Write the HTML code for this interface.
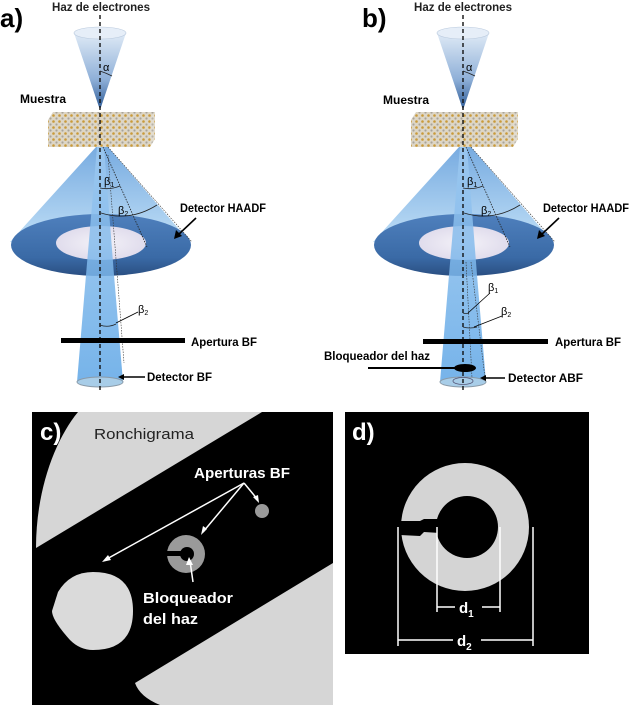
<!DOCTYPE html>
<html><head><meta charset="utf-8"><style>
html,body{margin:0;padding:0;background:#fff}
svg{display:block}
text{font-family:"Liberation Sans",sans-serif}
</style></head><body>
<svg width="635" height="705" viewBox="0 0 635 705" xmlns="http://www.w3.org/2000/svg">
<defs>
<linearGradient id="topcone" x1="0" y1="0" x2="0" y2="1">
<stop offset="0" stop-color="#dfeaf6"/><stop offset="0.6" stop-color="#8fb0d8"/><stop offset="1" stop-color="#2c5a96"/>
</linearGradient>
<linearGradient id="bigcone" x1="0" y1="0" x2="0" y2="1">
<stop offset="0" stop-color="#4a8fd6"/><stop offset="1" stop-color="#a9d3f3"/>
</linearGradient>
<linearGradient id="beam" x1="0" y1="0" x2="0" y2="1">
<stop offset="0" stop-color="#9fcaf0"/><stop offset="1" stop-color="#5ea6e6"/>
</linearGradient>
<linearGradient id="torus" x1="0" y1="0" x2="0" y2="1">
<stop offset="0" stop-color="#4f80bd"/><stop offset="0.7" stop-color="#3a6aa6"/><stop offset="1" stop-color="#2a4f82"/>
</linearGradient>
<radialGradient id="hole" cx="0.5" cy="0.5" r="0.6">
<stop offset="0" stop-color="#f4f2f8"/><stop offset="1" stop-color="#dcd8ea"/>
</radialGradient>
<pattern id="xtal" width="6" height="6" patternUnits="userSpaceOnUse">
<rect width="6" height="6" fill="#ddd6c6"/>
<circle cx="1.5" cy="1.5" r="1.3" fill="#c99a3a"/>
<circle cx="4.5" cy="4.5" r="1.1" fill="#a9a49a"/>
</pattern>
<g id="top">
<path d="M-26,33 L0,110 L26,33 Z" fill="url(#topcone)"/>
<ellipse cx="0" cy="33" rx="26" ry="6" fill="#e6eef8" stroke="#b9c9dd" stroke-width="0.6"/>
<path d="M-4,147 L-90,242 L90,242 L8,147 Z" fill="url(#bigcone)" opacity="0.75"/>
<ellipse cx="1" cy="245" rx="90" ry="31" fill="url(#torus)"/>
<ellipse cx="1" cy="243" rx="45" ry="17" fill="url(#hole)"/>
<path d="M-3,147 L-14,275 L-23,382 L23,382 L14,275 L4,147 Z" fill="url(#beam)" opacity="0.85"/>
<ellipse cx="0" cy="382" rx="23" ry="5" fill="#a8cde8" stroke="#8a9aa8" stroke-width="1"/>
<path d="M-52,120 L-47,112 L55,112 L50,120 Z" fill="url(#xtal)"/>
<path d="M50,120 L55,112 L55,139 L50,147 Z" fill="url(#xtal)" opacity="0.85"/>
<rect x="-52" y="120" width="102" height="27" fill="url(#xtal)"/>
<path d="M3,147 L47,247" stroke="#222" stroke-width="0.8" stroke-dasharray="1.5,1.2" fill="none"/>
<path d="M8,147 L92,242" stroke="#333" stroke-width="0.6" stroke-dasharray="1.5,1.2" fill="none"/>
<path d="M0,15 L0,392" stroke="#111" stroke-width="1.4" stroke-dasharray="4,3"/>
<path d="M0,71 Q6,73 12,76" stroke="#222" fill="none" stroke-width="0.8"/>
<path d="M0,188 Q10,190 20,186" stroke="#222" fill="none" stroke-width="0.8"/>
<path d="M1,213 Q30,222 57,205" stroke="#222" fill="none" stroke-width="0.8"/>
</g>
</defs>

<!-- Panel a -->
<use href="#top" x="100" y="0"/>
<text x="0" y="27" font-size="26" font-weight="bold">a)</text>
<text x="52" y="11" font-size="11.5" font-weight="bold" fill="#222" textLength="98" lengthAdjust="spacingAndGlyphs">Haz de electrones</text>
<text x="103" y="71" font-size="11" font-family="Liberation Serif">α</text>
<text x="20" y="103" font-size="11.5" font-weight="bold" textLength="46" lengthAdjust="spacingAndGlyphs">Muestra</text>
<text x="104" y="185" font-size="11" font-family="Liberation Serif">β<tspan font-size="7" dy="2">1</tspan></text>
<text x="118" y="214" font-size="11" font-family="Liberation Serif">β<tspan font-size="7" dy="2">2</tspan></text>
<text x="180" y="212" font-size="12" font-weight="bold" textLength="86" lengthAdjust="spacingAndGlyphs">Detector HAADF</text>
<path d="M196,218 L178,235" stroke="#000" stroke-width="1.6"/>
<path d="M174,239 L176,230 L182,236 Z" fill="#000"/>
<path d="M100,325 Q108,328 116,324" stroke="#222" fill="none" stroke-width="0.8"/>
<path d="M108,155 L124,363" stroke="#333" stroke-width="0.6" stroke-dasharray="1.5,1.2"/>
<text x="138" y="313" font-size="11" font-family="Liberation Serif">β<tspan font-size="7" dy="2">2</tspan></text>
<path d="M138,312 L116,323" stroke="#000" stroke-width="0.8"/>
<rect x="61" y="338" width="124" height="5" fill="#000"/>
<text x="191" y="346" font-size="12" font-weight="bold" textLength="66" lengthAdjust="spacingAndGlyphs">Apertura BF</text>
<text x="147" y="381" font-size="12" font-weight="bold" textLength="65" lengthAdjust="spacingAndGlyphs">Detector BF</text>
<path d="M145,377 L122,377" stroke="#000" stroke-width="1.6"/>
<path d="M118,377 L124,374 L124,380 Z" fill="#000"/>

<!-- Panel b -->
<use href="#top" x="463" y="0"/>
<text x="362" y="27" font-size="26" font-weight="bold">b)</text>
<text x="414" y="11" font-size="11.5" font-weight="bold" fill="#222" textLength="98" lengthAdjust="spacingAndGlyphs">Haz de electrones</text>
<text x="466" y="71" font-size="11" font-family="Liberation Serif">α</text>
<text x="383" y="104" font-size="11.5" font-weight="bold" textLength="46" lengthAdjust="spacingAndGlyphs">Muestra</text>
<text x="467" y="185" font-size="11" font-family="Liberation Serif">β<tspan font-size="7" dy="2">1</tspan></text>
<text x="481" y="214" font-size="11" font-family="Liberation Serif">β<tspan font-size="7" dy="2">2</tspan></text>
<text x="543" y="212" font-size="12" font-weight="bold" textLength="86" lengthAdjust="spacingAndGlyphs">Detector HAADF</text>
<path d="M559,218 L541,235" stroke="#000" stroke-width="1.6"/>
<path d="M537,239 L539,230 L545,236 Z" fill="#000"/>
<path d="M466,262 L472,378" stroke="#333" stroke-width="0.6" stroke-dasharray="1.5,1.2"/>
<path d="M471,262 L485,378" stroke="#333" stroke-width="0.6" stroke-dasharray="1.5,1.2"/>
<path d="M463,313 Q466,314 469,313" stroke="#222" fill="none" stroke-width="0.8"/>
<path d="M463,327 Q470,329 477,327" stroke="#222" fill="none" stroke-width="0.8"/>
<text x="488" y="291" font-size="11" font-family="Liberation Serif">β<tspan font-size="7" dy="2">1</tspan></text>
<path d="M490,293 L468,313" stroke="#000" stroke-width="0.8"/>
<text x="501" y="315" font-size="11" font-family="Liberation Serif">β<tspan font-size="7" dy="2">2</tspan></text>
<path d="M502,316 L474,327" stroke="#000" stroke-width="0.8"/>
<rect x="423" y="339" width="125" height="5" fill="#000"/>
<text x="555" y="346" font-size="12" font-weight="bold" textLength="66" lengthAdjust="spacingAndGlyphs">Apertura BF</text>
<text x="324" y="360" font-size="12" font-weight="bold" textLength="106" lengthAdjust="spacingAndGlyphs">Bloqueador del haz</text>
<path d="M368,368 L455,368" stroke="#000" stroke-width="2"/>
<ellipse cx="465" cy="368" rx="11" ry="4" fill="#000"/>
<ellipse cx="463" cy="381" rx="10" ry="3.5" fill="none" stroke="#557" stroke-width="0.8"/>
<text x="508" y="382" font-size="12" font-weight="bold" textLength="75" lengthAdjust="spacingAndGlyphs">Detector ABF</text>
<path d="M505,378 L484,378" stroke="#000" stroke-width="1.6"/>
<path d="M480,378 L486,375 L486,381 Z" fill="#000"/>

<!-- Panel c -->
<rect x="32" y="412" width="301" height="293" fill="#000"/>
<path d="M36,548 C36,490 55,440 78,412 L262,412 Z" fill="#d6d6d6"/>
<path d="M135,683 L333,563 L333,705 L160,705 Q140,697 135,683 Z" fill="#d6d6d6"/>
<path d="M58,592 Q70,572 93,572 Q133,572 133,611 Q133,650 93,650 Q80,650 70,640 Q52,620 52,611 Z" fill="#dadada"/>
<circle cx="186" cy="554" r="19" fill="#9a9a9a"/>
<circle cx="187" cy="554" r="7" fill="#000"/>
<rect x="166" y="551" width="20" height="5" fill="#000"/>
<circle cx="262" cy="511" r="7" fill="#9a9a9a"/>
<text x="40" y="440" font-size="24" font-weight="bold" fill="#fff">c)</text>
<text x="94" y="439" font-size="15" fill="#222" textLength="100" lengthAdjust="spacingAndGlyphs">Ronchigrama</text>
<text x="194" y="478" font-size="15" font-weight="bold" fill="#fff" textLength="96" lengthAdjust="spacingAndGlyphs">Aperturas BF</text>
<g stroke="#fff" stroke-width="1.5" fill="none">
<path d="M244,483 L105,560"/><path d="M244,483 L203,532"/><path d="M244,483 L258,500"/>
<path d="M193,582 L190,561"/>
</g>
<g fill="#fff">
<path d="M102,562 L108,555 L111,560 Z"/>
<path d="M201,535 L203,526 L207,529 Z"/>
<path d="M259,503 L253,497 L258,495 Z"/>
<path d="M189,557 L186,565 L193,565 Z"/>
</g>
<text x="143" y="603" font-size="15" font-weight="bold" fill="#fff" textLength="90" lengthAdjust="spacingAndGlyphs">Bloqueador</text>
<text x="143" y="624" font-size="15" font-weight="bold" fill="#fff" textLength="55" lengthAdjust="spacingAndGlyphs">del haz</text>

<!-- Panel d -->
<rect x="345" y="412" width="244" height="242" fill="#000"/>
<circle cx="465" cy="527" r="64" fill="#d4d4d4"/>
<circle cx="467" cy="527" r="31" fill="#000"/>
<path d="M400,521 L420,521 L424,519 L440,519 L440,533 L424,532 L420,536 L400,535 Z" fill="#000"/>
<text x="352" y="440" font-size="24" font-weight="bold" fill="#fff">d)</text>
<g stroke="#fff" stroke-width="1.5">
<path d="M437,527 L437,612"/><path d="M500,527 L500,612"/>
<path d="M437,607 L455,607"/><path d="M482,607 L500,607"/>
<path d="M398,527 L398,646"/><path d="M533,527 L533,646"/>
<path d="M398,640 L453,640"/><path d="M481,640 L533,640"/>
</g>
<text x="459" y="613" font-size="15" font-weight="bold" fill="#fff">d<tspan font-size="10" dy="4">1</tspan></text>
<text x="457" y="646" font-size="15" font-weight="bold" fill="#fff">d<tspan font-size="10" dy="4">2</tspan></text>
</svg>
</body></html>
